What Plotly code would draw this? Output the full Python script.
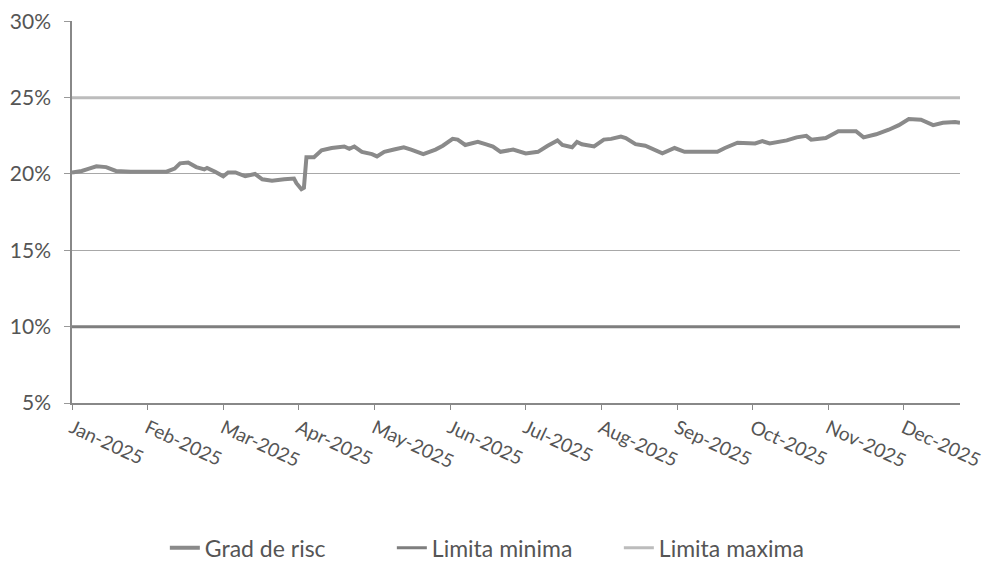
import calendar
import plotly.graph_objects as go

# ---- data ----
dates = [
    "2025-01-01", "2025-01-05", "2025-01-08", "2025-01-11", "2025-01-15", "2025-01-19", "2025-01-25",
    "2025-02-01", "2025-02-08", "2025-02-11", "2025-02-13", "2025-02-16", "2025-02-19", "2025-02-22",
    "2025-02-23", "2025-02-26", "2025-03-01", "2025-03-03", "2025-03-06", "2025-03-10", "2025-03-14",
    "2025-03-17", "2025-03-21", "2025-03-26", "2025-03-30", "2025-03-31", "2025-04-02", "2025-04-03",
    "2025-04-04", "2025-04-07", "2025-04-10", "2025-04-14", "2025-04-19", "2025-04-21", "2025-04-23",
    "2025-04-26", "2025-04-30", "2025-05-02", "2025-05-05", "2025-05-09", "2025-05-13", "2025-05-16",
    "2025-05-21", "2025-05-26", "2025-05-29", "2025-06-02", "2025-06-04", "2025-06-07", "2025-06-12",
    "2025-06-15", "2025-06-18", "2025-06-21", "2025-06-26", "2025-07-01", "2025-07-06", "2025-07-10",
    "2025-07-14", "2025-07-16", "2025-07-20", "2025-07-22", "2025-07-24", "2025-07-29", "2025-08-02",
    "2025-08-05", "2025-08-09", "2025-08-11", "2025-08-15", "2025-08-19", "2025-08-23", "2025-08-26",
    "2025-08-31", "2025-09-04", "2025-09-11", "2025-09-17", "2025-09-20", "2025-09-25", "2025-10-02",
    "2025-10-05", "2025-10-08", "2025-10-15", "2025-10-19", "2025-10-23", "2025-10-25", "2025-10-31",
    "2025-11-05", "2025-11-12", "2025-11-15", "2025-11-20", "2025-11-25", "2025-11-29", "2025-12-03",
    "2025-12-08", "2025-12-13", "2025-12-17", "2025-12-22", "2025-12-24",
]
grad_de_risc = [
    20.1, 20.2, 20.35, 20.5, 20.45, 20.2, 20.15,
    20.15, 20.15, 20.35, 20.7, 20.75, 20.45, 20.3,
    20.4, 20.15, 19.85, 20.1, 20.1, 19.85, 20.0,
    19.65, 19.55, 19.65, 19.7, 19.4, 19.0, 19.1,
    21.1, 21.1, 21.55, 21.7, 21.8, 21.65, 21.8,
    21.45, 21.3, 21.15, 21.45, 21.6, 21.75, 21.6,
    21.3, 21.6, 21.85, 22.3, 22.25, 21.9, 22.1,
    21.95, 21.8, 21.45, 21.6, 21.35, 21.45, 21.85,
    22.2, 21.9, 21.75, 22.1, 21.95, 21.8, 22.25,
    22.3, 22.45, 22.35, 21.95, 21.85, 21.6, 21.35,
    21.7, 21.45, 21.45, 21.45, 21.7, 22.05, 22.0,
    22.15, 22.0, 22.2, 22.4, 22.5, 22.25, 22.35,
    22.8, 22.8, 22.4, 22.6, 22.9, 23.2, 23.6,
    23.55, 23.2, 23.35, 23.4, 23.35,
]
limita_minima = 10.0
limita_maxima = 25.0
month_labels = ["Jan-2025", "Feb-2025", "Mar-2025", "Apr-2025", "May-2025", "Jun-2025",
                "Jul-2025", "Aug-2025", "Sep-2025", "Oct-2025", "Nov-2025", "Dec-2025"]
y_ticks = [5, 10, 15, 20, 25, 30]


def month_pos(d):
    y, m, day = (int(p) for p in d.split("-"))
    return (m - 1) + (day - 1) / calendar.monthrange(y, m)[1]


xs = [month_pos(d) for d in dates]
x_end = month_pos(dates[-1])

font_family = "Lato, 'Open Sans', sans-serif"

fig = go.Figure()
fig.add_trace(go.Scatter(x=xs, y=grad_de_risc, mode="lines", name="Grad de risc",
                         line=dict(color="#8a8a8a", width=4)))
fig.add_trace(go.Scatter(x=[xs[0], x_end], y=[limita_minima] * 2, mode="lines", name="Limita minima",
                         line=dict(color="#7e7e7e", width=3)))
fig.add_trace(go.Scatter(x=[xs[0], x_end], y=[limita_maxima] * 2, mode="lines", name="Limita maxima",
                         line=dict(color="#bcbcbc", width=3)))

# the page body adds an 8px margin, so the figure is drawn 8px smaller and margins compensate
fig.update_layout(
    width=989, height=556,
    margin=dict(l=64, r=37, t=13, b=161, autoexpand=False),
    paper_bgcolor="white", plot_bgcolor="white",
    font=dict(family=font_family, color="#555555"),
    showlegend=True,
    legend=dict(orientation="h", x=0.488, xanchor="center", y=-0.379, yanchor="middle",
                font=dict(size=23, color="#555555"), entrywidth=182, entrywidthmode="pixels",
                traceorder="normal"),
    xaxis=dict(
        range=[0, x_end], tickmode="array", tickvals=list(range(len(month_labels))),
        ticktext=month_labels, tickangle=25, ticks="outside", ticklen=5, tickcolor="#888888",
        showgrid=False, showline=True, linecolor="#888888", linewidth=1.5, zeroline=False,
        tickfont=dict(size=19, color="#555555"), automargin=False,
    ),
    yaxis=dict(
        range=[5, 30.02], tickmode="array", tickvals=y_ticks,
        ticktext=[f"{v}%" for v in y_ticks], ticks="outside", ticklen=6, tickcolor="#999999",
        showgrid=True, gridcolor="#a8a8a8", gridwidth=1, showline=True, linecolor="#888888",
        linewidth=1.5, zeroline=False, tickfont=dict(size=21, color="#555555"),
        automargin=False, ticklabelstandoff=9, ticklabeloverflow="allow",
    ),
)

fig.write_html("out.html")
